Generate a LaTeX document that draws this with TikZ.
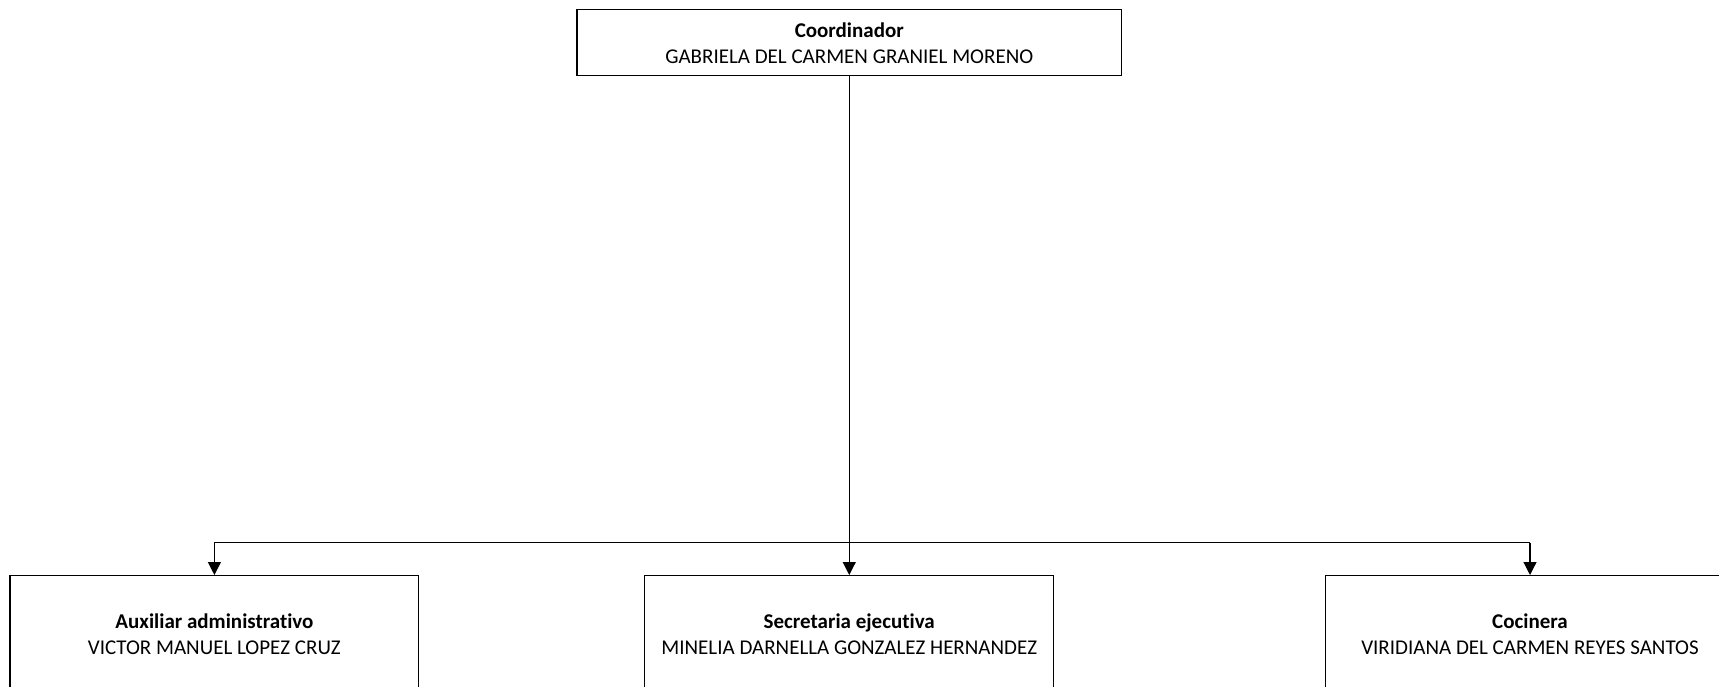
\documentclass[tikz,border=0pt]{standalone}
\usepackage{fontspec}
\setmainfont[Ligatures=NoCommon]{Carlito}
\usetikzlibrary{arrows.meta}
\begin{document}
\begin{tikzpicture}[x=1pt,y=1pt,
  box/.style={draw=black,line width=1.2pt,align=center,inner sep=0pt,
    font=\fontsize{21}{26}\selectfont},
  topbox/.style={box,minimum width=544.5pt,minimum height=65.7pt},
  subbox/.style={box,minimum width=408.9pt,minimum height=116.8pt},
  link/.style={line width=1.2pt},
  arrow/.style={link,-{Triangle[width=13pt,length=13pt]}}]
\useasboundingbox (0,0) rectangle (1719,686);
\clip (0,0) rectangle (1719,686);
\node[topbox] (coord) at (849.25,643.25) {\textbf{Coordinador}\\GABRIELA DEL CARMEN GRANIEL MORENO};
\node[subbox] (aux) at (214.4,52) {\textbf{Auxiliar administrativo}\\VICTOR MANUEL LOPEZ CRUZ};
\node[subbox] (sec) at (849.25,52) {\textbf{Secretaria ejecutiva}\\MINELIA DARNELLA GONZALEZ HERNANDEZ};
\node[subbox] (coc) at (1530,52) {\textbf{Cocinera}\\VIRIDIANA DEL CARMEN REYES SANTOS};
\coordinate (j) at (849.25,143.3);
\draw[arrow] (coord.south) -- (sec.north);
\draw[link] (j -| aux.north) -- (j -| coc.north);
\draw[arrow] (j -| aux.north) -- (aux.north);
\draw[arrow] (j -| coc.north) -- (coc.north);
\end{tikzpicture}
\end{document}
